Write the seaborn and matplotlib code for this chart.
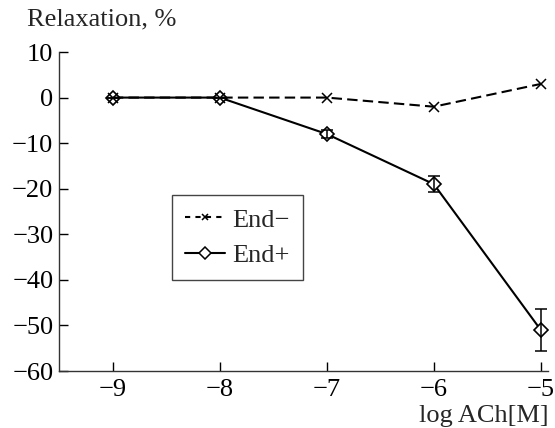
import pandas as pd
import matplotlib.pyplot as plt
import seaborn as sns

# datos
log_ach = [-9, -8, -7, -6, -5]
end_minus = [0, 0, 0, -2, 3]
end_plus = [0, 0, -8, -19, -51]
end_plus_err = [0, 0, 0.9, 1.7, 4.6]

df = pd.DataFrame({'log_ach': log_ach, 'end_minus': end_minus,
                   'end_plus': end_plus})

sns.set_style('ticks')
plt.rcParams['font.family'] = ['Liberation Serif', 'DejaVu Serif']
plt.rcParams['font.size'] = 19

fig = plt.figure(figsize=(5.55, 4.28), dpi=100)
ax = fig.add_axes([0.106, 0.133, 0.882, 0.7455])

# End+ : linea continua con rombos
sns.lineplot(data=df, x='log_ach', y='end_plus', color='black', lw=1.5,
             marker='D', ms=7, mew=1.2, markerfacecolor='white',
             markeredgecolor='black', ax=ax)
ax.errorbar(log_ach, end_plus, yerr=end_plus_err, fmt='none',
            ecolor='black', elinewidth=1.1, capsize=4, capthick=1.1)
# End- : linea discontinua con cruces
sns.lineplot(data=df, x='log_ach', y='end_minus', color='black', lw=1.5,
             ls=(0, (5, 2.5)), marker='x', ms=7, mew=1.1,
             markeredgecolor='black', ax=ax)

# leyenda manual
h1, = ax.plot([], [], color='black', ls=(0, (2.5, 2.5)), lw=1.5, marker='x',
              ms=5, mew=1.1)
h2, = ax.plot([], [], color='black', lw=1.5, marker='D', ms=6, mew=1.1,
              mfc='white')
leg = ax.legend([h1, h2], ['End\u2212', 'End+'], loc='upper left',
                bbox_to_anchor=(0.231, 0.552), borderaxespad=0,
                fancybox=False, edgecolor='#444444', framealpha=1,
                handlelength=1.5, handletextpad=0.3, borderpad=0.5,
                labelspacing=0.45, fontsize=19)
leg.get_frame().set_linewidth(1.0)

ax.set_xlim(-9.505, -4.93)
ax.set_ylim(-60, 10)
ax.set_xticks([-9, -8, -7, -6, -5])
ax.set_yticks(range(-60, 11, 10))
ax.tick_params(direction='in', length=6.3, width=1, colors='black',
               labelsize=19)
ax.tick_params(axis='x', pad=6)
ax.tick_params(axis='y', pad=4)
sns.despine(ax=ax)
for s in ['left', 'bottom']:
    ax.spines[s].set_linewidth(1.0)
    ax.spines[s].set_color('#333333')

ax.set_xlabel('')
ax.set_ylabel('')
fig.text(0.048, 0.94, 'Relaxation, %', fontsize=19)
fig.text(0.988, 0.002, 'log ACh[M]', fontsize=19, ha='right', va='bottom')

plt.savefig('out.png', dpi=100)
plt.close()
